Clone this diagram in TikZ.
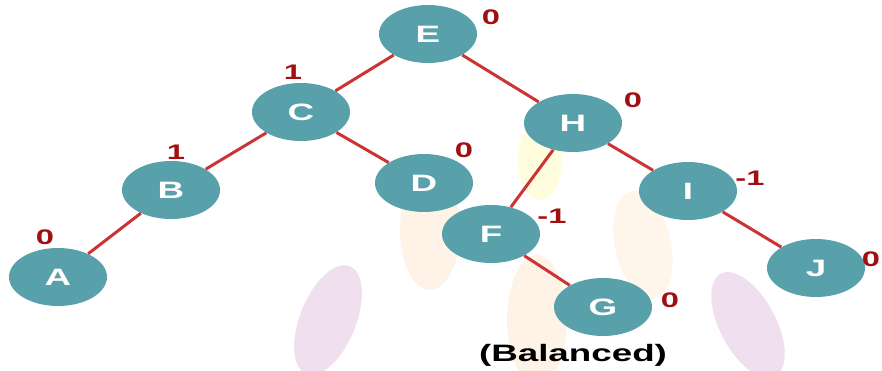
\documentclass[tikz,border=0pt]{standalone}
\usepackage{fontspec}
\setmainfont[FakeStretch=1.55]{Liberation Sans}
\usepackage{tikz}
\usetikzlibrary{shapes.geometric}

\definecolor{nodeteal}{HTML}{58A0AA}
\definecolor{edgered}{HTML}{CC3333}
\definecolor{bfred}{HTML}{A01010}

\begin{document}
\begin{tikzpicture}[
  x=0.02cm, y=-0.02cm,
  avl/.style={ellipse, fill=nodeteal, minimum width=1.96cm, minimum height=1.16cm, inner sep=0pt, text=white, font=\fontsize{13.5}{16}\selectfont\bfseries},
  bf/.style={text=bfred, font=\fontsize{12}{14}\selectfont\bfseries, inner sep=0pt},
  edge/.style={draw=edgered, line width=1.7pt}
]
\useasboundingbox (0,0) rectangle (882,371);

% faint watermark in the background
\fill[violet!25, opacity=0.5, rotate around={-22:(328,320)}] (328,320) ellipse (28 and 58);
\fill[violet!25, opacity=0.5, rotate around={28:(748,325)}] (748,325) ellipse (28 and 58);
\fill[orange!20, opacity=0.45] (430,230) ellipse (30 and 60);
\fill[orange!20, opacity=0.45] (537,320) ellipse (30 and 65);
\fill[orange!20, opacity=0.4, rotate around={12:(643,245)}] (643,245) ellipse (28 and 55);
\fill[yellow!30, opacity=0.45] (540,160) ellipse (22 and 40);

% tree
\node[avl] (E) at (428,34) {E};
\node[avl] (C) at (301,112) {C};
\node[avl] (H) at (573,123) {H};
\node[avl] (B) at (171,190) {B};
\node[avl] (D) at (424,183) {D};
\node[avl] (I) at (688,191) {I};
\node[avl] (F) at (491,234) {F};
\node[avl] (J) at (816,268) {J};
\node[avl] (A) at (58,277) {A};
\node[avl] (G) at (603,307) {G};

\draw[edge] (E) -- (C);
\draw[edge] (E) -- (H);
\draw[edge] (C) -- (B);
\draw[edge] (C) -- (D);
\draw[edge] (B) -- (A);
\draw[edge] (H) -- (F);
\draw[edge] (H) -- (I);
\draw[edge] (F) -- (G);
\draw[edge] (I) -- (J);

% balance factors
\node[bf] (bfE) at (491,17) {0};
\node[bf] (bfC) at (293,72) {1};
\node[bf] (bfH) at (633,100) {0};
\node[bf] (bfB) at (176,152) {1};
\node[bf] (bfD) at (464,150) {0};
\node[bf] (bfI) at (750,178) {-1};
\node[bf] (bfF) at (552,216) {-1};
\node[bf] (bfJ) at (871,259) {0};
\node[bf] (bfA) at (45,237) {0};
\node[bf] (bfG) at (670,300) {0};

\node[font=\fontsize{13.5}{16}\selectfont\bfseries] (cap) at (573,355) {(Balanced)};
\end{tikzpicture}
\end{document}
